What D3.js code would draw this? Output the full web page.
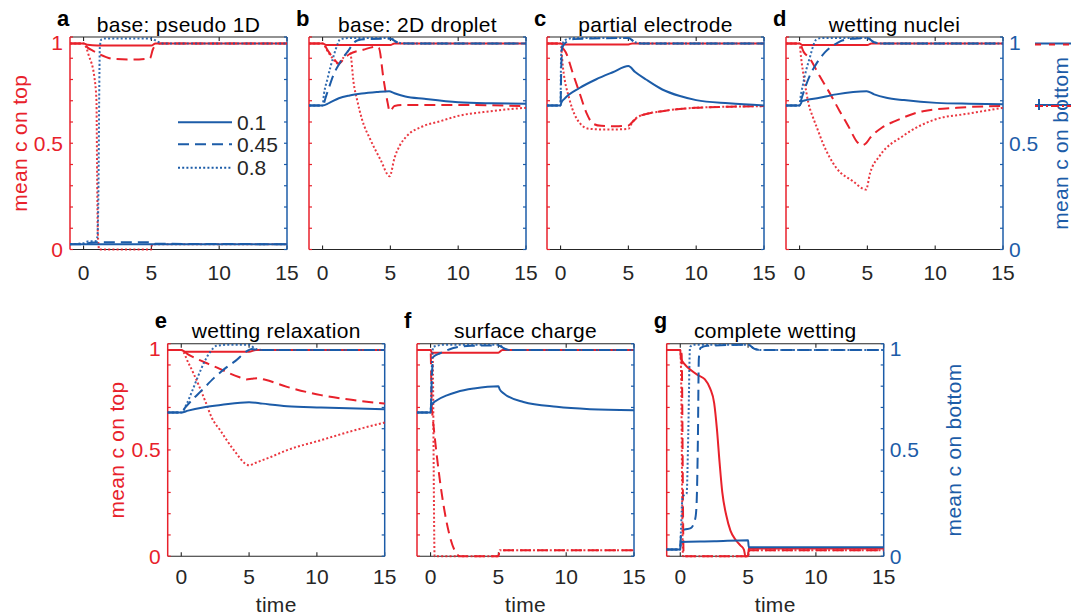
<!DOCTYPE html>
<html><head><meta charset="utf-8">
<script src="https://cdn.jsdelivr.net/npm/d3@7"></script>
<style>
body{margin:0;background:#fff;}
svg{display:block;}
text{font-family:"Liberation Sans",Arial,Helvetica,sans-serif;}
</style>
</head><body>
<svg id="chart" width="1071" height="616"></svg>
<script>
// ---------------- DATA ----------------
const panelIds = ["a","b","c","d","e","f","g"];
const panelTitles = ["base: pseudo 1D","base: 2D droplet","partial electrode","wetting nuclei",
                     "wetting relaxation","surface charge","complete wetting"];
const xTicks = [0,5,10,15];
const xTickLabels = ["0","5","10","15"];
const yMinorTicks = [0,0.1,0.2,0.3,0.4,0.5,0.6,0.7,0.8,0.9,1];
const yTickValues = [0,0.5,1];
const yTickLabels = ["0","0.5","1"];
const legendLabels = ["0.1","0.45","0.8"];
const timeDomain = [-1,15];
const valueDomain = [0,1];
const xAxisTitle = "time";
const leftAxisTitle = "mean c on top";
const rightAxisTitle = "mean c on bottom";

// panel a: base pseudo 1D  (top = red, bottom = blue; 0.1 solid, 0.45 dashed, 0.8 dotted)
const aTop01  = [[-1,0.97],[0,0.97],[0.3,0.963],[1,0.96],[5,0.96],[5.3,0.97],[15,0.97]];
const aTop045 = [[-1,0.97],[0,0.97],[0.3,0.95],[0.7,0.935],[1.2,0.918],[2.2,0.897],[3.5,0.894],[4.9,0.9],[5.1,0.94],[5.4,0.965],[5.7,0.97],[15,0.97]];
const aTop08  = [[-1,0.97],[0,0.97],[0.4,0.91],[0.8,0.81],[0.95,0.7],[1.0,0.35],[1.05,0.08],[1.15,0.0],[5,0.0],[5.05,0.025],[15,0.025]];
const aBot01  = [[-1,0.025],[15,0.025]];
const aBot045 = [[-1,0.025],[0,0.025],[0.5,0.032],[1,0.034],[4.8,0.034],[5.3,0.027],[15,0.025]];
const aBot08  = [[-1,0.025],[0,0.03],[0.3,0.038],[0.9,0.04],[1.02,0.06],[1.1,0.3],[1.15,0.7],[1.2,0.95],[1.3,0.988],[1.6,0.993],[5,0.993],[5.4,0.98],[5.8,0.97],[15,0.97]];

// panel b: base 2D droplet
const bTop01  = [[-1,0.97],[0,0.97],[0.3,0.962],[5,0.962],[5.3,0.97],[15,0.97]];
const bTop045 = [[-1,0.97],[0,0.97],[0.4,0.935],[0.8,0.9],[1.2,0.875],[1.6,0.9],[2,0.92],[3,0.94],[4,0.955],[4.15,0.95],[4.5,0.8],[4.8,0.69],[4.95,0.65],[5.3,0.675],[6,0.68],[10,0.68],[15,0.675]];
const bTop08  = [[-1,0.97],[0,0.97],[0.4,0.93],[0.8,0.895],[1.1,0.875],[1.5,0.9],[1.95,0.935],[2.05,0.925],[2.29,0.784],[2.54,0.706],[2.91,0.612],[3.52,0.518],[4.26,0.424],[4.95,0.345],[5.3,0.43],[5.7,0.49],[6.2,0.533],[7.4,0.58],[8.7,0.604],[9.9,0.627],[12.4,0.651],[15,0.667]];
const bBot01  = [[-1,0.678],[0,0.678],[0.5,0.69],[1.2,0.712],[2,0.725],[2.9,0.734],[4,0.741],[4.9,0.745],[5.3,0.735],[6.1,0.72],[7.5,0.709],[10,0.693],[12.5,0.688],[15,0.686]];
const bBot045 = [[-1,0.678],[0,0.678],[0.3,0.73],[0.86,0.83],[1.2,0.87],[1.6,0.91],[1.95,0.94],[2.3,0.973],[2.6,0.985],[3.2,0.99],[5,0.992],[5.5,0.975],[6,0.97],[15,0.97]];
const bBot08  = [[-1,0.678],[0,0.678],[0.1,0.73],[0.35,0.8],[0.6,0.863],[0.85,0.918],[1.1,0.965],[1.3,0.99],[2,0.995],[5,0.995],[5.5,0.975],[6,0.97],[15,0.97]];

// panel c: partial electrode
const cTop01  = [[-1,0.97],[0,0.97],[0.2,0.965],[5,0.965],[5.3,0.97],[15,0.97]];
const cTop045 = [[-1,0.97],[0,0.97],[0.1,0.955],[0.4,0.926],[0.9,0.83],[1.4,0.737],[1.9,0.644],[2.4,0.592],[3,0.582],[4,0.58],[5,0.583],[5.3,0.6],[5.8,0.627],[7.5,0.651],[10,0.667],[12.5,0.672],[15,0.675]];
const cTop08  = [[-1,0.97],[0,0.97],[0.17,0.86],[0.66,0.706],[1.4,0.596],[2.1,0.568],[3,0.565],[4,0.565],[5,0.568],[5.3,0.6],[5.8,0.627],[7.5,0.651],[10,0.667],[12.5,0.672],[15,0.675]];
const cBot01  = [[-1,0.678],[0,0.678],[0.05,0.69],[0.3,0.71],[1.4,0.76],[2.6,0.8],[3.85,0.834],[5,0.863],[5.5,0.835],[6.3,0.8],[7.5,0.753],[8.8,0.722],[10,0.703],[12.4,0.688],[15,0.678]];
const cBot045 = [[-1,0.678],[0,0.678],[0.05,0.85],[0.12,0.95],[0.4,0.975],[1,0.99],[5,0.995],[5.5,0.975],[6,0.97],[15,0.97]];
const cBot08  = [[-1,0.678],[0,0.678],[0.03,0.88],[0.08,0.95],[0.3,0.985],[1,0.995],[5,0.995],[5.5,0.975],[6,0.97],[15,0.97]];

// panel d: wetting nuclei
const dTop01  = [[-1,0.97],[0,0.97],[0.2,0.962],[5,0.962],[5.3,0.97],[15,0.97]];
const dTop045 = [[-1,0.97],[0,0.97],[0.3,0.93],[0.74,0.9],[1.48,0.816],[2.1,0.75],[2.96,0.651],[3.6,0.58],[4.3,0.502],[4.6,0.49],[4.9,0.5],[5.2,0.525],[6.06,0.573],[7.04,0.604],[9.1,0.651],[11.6,0.667],[15,0.676]];
const dTop08  = [[-1,0.97],[0,0.97],[0.1,0.91],[0.37,0.79],[0.65,0.69],[1,0.62],[1.3,0.57],[1.72,0.5],[2.7,0.385],[3.94,0.321],[4.9,0.282],[5.2,0.36],[5.9,0.44],[7.6,0.533],[8.8,0.58],[10,0.612],[12.5,0.64],[15,0.667]];
const dBot01  = [[-1,0.678],[0,0.678],[0.2,0.698],[1.48,0.714],[2.7,0.73],[4.95,0.745],[5.5,0.73],[6.4,0.714],[7.7,0.703],[10.1,0.69],[12.5,0.686],[15,0.684]];
const dBot045 = [[-1,0.678],[0,0.678],[0.1,0.7],[0.74,0.816],[1.2,0.87],[1.9,0.93],[2.6,0.965],[3.2,0.985],[4,0.992],[5,0.995],[5.5,0.975],[6,0.97],[15,0.97]];
const dBot08  = [[-1,0.678],[0,0.678],[0.05,0.706],[0.25,0.776],[0.5,0.847],[0.75,0.902],[1,0.957],[1.23,0.988],[1.6,0.995],[5,0.995],[5.5,0.975],[6,0.97],[15,0.97]];

// panel e: wetting relaxation
const eTop01  = [[-1,0.97],[0,0.97],[0.3,0.962],[5,0.962],[5.5,0.97],[15,0.97]];
const eTop045 = [[-1,0.97],[0,0.97],[0.5,0.95],[1.3,0.924],[2,0.905],[2.8,0.883],[3.5,0.862],[4.3,0.842],[4.8,0.832],[5.2,0.835],[5.6,0.838],[6.2,0.83],[7.8,0.797],[10.3,0.758],[12.8,0.734],[15,0.718]];
const eTop08  = [[-1,0.97],[0,0.97],[0.54,0.908],[1.28,0.806],[1.78,0.728],[2.27,0.649],[2.9,0.59],[3.88,0.499],[5,0.428],[5.5,0.44],[6.6,0.467],[7.8,0.499],[10.3,0.546],[12.8,0.593],[15,0.629]];
const eBot01  = [[-1,0.676],[0,0.676],[0.5,0.685],[1.6,0.7],[2.9,0.711],[5,0.725],[6,0.718],[7.8,0.706],[10.3,0.7],[15,0.692]];
const eBot045 = [[-1,0.676],[0,0.676],[0.3,0.7],[1.66,0.79],[2.4,0.838],[3.26,0.885],[4,0.919],[4.87,0.966],[5.2,0.975],[5.6,0.97],[15,0.97]];
const eBot08  = [[-1,0.676],[0,0.676],[0.42,0.72],[0.79,0.775],[1.28,0.853],[1.78,0.924],[2.15,0.963],[2.6,0.99],[3.5,0.995],[5,0.995],[5.5,0.975],[6,0.97],[15,0.97]];

// panel f: surface charge
const fTop01  = [[-1,0.97],[0,0.97],[0.1,0.958],[5,0.958],[5.3,0.97],[15,0.97]];
const fTop045 = [[-1,0.97],[0,0.97],[0.1,0.69],[2.19,0.0],[5,0.0],[5.1,0.028],[15,0.028]];
const fTop08  = [[-1,0.97],[0,0.97],[0.15,0.95],[0.3,0.0],[5,0.0],[5.1,0.028],[15,0.028]];
const fBot01  = [[-1,0.676],[0,0.676],[0.05,0.71],[0.47,0.734],[1.2,0.757],[1.94,0.773],[3.2,0.789],[5,0.8],[5.1,0.785],[5.4,0.766],[6.85,0.726],[9.3,0.703],[11.75,0.692],[15,0.687]];
const fBot045 = [[-1,0.676],[0,0.676],[0.1,0.85],[0.2,0.938],[0.7,0.955],[1.2,0.969],[2,0.985],[3,0.99],[5,0.992],[5.5,0.975],[6,0.97],[15,0.97]];
const fBot08  = [[-1,0.676],[0,0.676],[0.1,0.9],[0.2,0.985],[1,0.995],[5,0.995],[5.5,0.975],[6,0.97],[15,0.97]];

// panel g: complete wetting
const gTop01  = [[-1,0.97],[0,0.97],[0.05,0.93],[0.3,0.905],[0.8,0.875],[1.3,0.852],[1.8,0.833],[2.2,0.79],[2.5,0.72],[2.7,0.6],[2.9,0.44],[3.1,0.3],[3.4,0.19],[3.7,0.12],[4.1,0.075],[4.45,0.05],[4.7,0.03],[4.8,0.0],[5,0.0],[5.05,0.036],[15,0.036]];
const gTop045 = [[-1,0.97],[0,0.97],[0.1,0.95],[0.25,0.0],[5,0.0],[5.1,0.028],[15,0.028]];
const gTop08  = [[-1,0.97],[0,0.97],[0.05,0.9],[0.2,0.0],[5,0.0],[5.1,0.028],[15,0.028]];
const gBot01  = [[-1,0.031],[0,0.031],[0.02,0.067],[2.5,0.07],[5,0.075],[5.05,0.042],[15,0.042]];
const gBot045 = [[-1,0.031],[0,0.031],[0.05,0.1],[0.3,0.125],[0.77,0.132],[1.1,0.175],[1.2,0.24],[1.3,0.55],[1.37,0.93],[1.5,0.98],[2,0.99],[5,0.995],[5.5,0.975],[6,0.97],[15,0.97]];
const gBot08  = [[-1,0.031],[0,0.031],[0.05,0.12],[0.17,0.28],[0.47,0.295],[0.59,0.577],[0.72,0.985],[1,0.995],[5,0.995],[5.5,0.975],[6,0.97],[15,0.97]];

// stray line stubs visible to the right of panel d
const dStubValues = [0.97, 0.68];

const topSeries = {a:[aTop01,aTop045,aTop08], b:[bTop01,bTop045,bTop08], c:[cTop01,cTop045,cTop08],
  d:[dTop01,dTop045,dTop08], e:[eTop01,eTop045,eTop08], f:[fTop01,fTop045,fTop08], g:[gTop01,gTop045,gTop08]};
const botSeries = {a:[aBot01,aBot045,aBot08], b:[bBot01,bBot045,bBot08], c:[cBot01,cBot045,cBot08],
  d:[dBot01,dBot045,dBot08], e:[eBot01,eBot045,eBot08], f:[fBot01,fBot045,fBot08], g:[gBot01,gBot045,gBot08]};

// ---------------- LAYOUT / STYLE ----------------
const RED = "#e8212b", BLUE = "#1c5ca8", AX = "#262626";
const W = 217, H = 212.5;
const layout = {
  a:{left:70,   top:37,  row:0, leftLab:true},
  b:{left:309,  top:37,  row:0},
  c:{left:547,  top:37,  row:0},
  d:{left:786,  top:37,  row:0, rightLab:true, rLabOff:65},
  e:{left:167.7,top:343.7,row:1, leftLab:true},
  f:{left:417,  top:343.7,row:1},
  g:{left:666.7,top:343.7,row:1, rightLab:true, rLabOff:77}
};
const dashes = [null, "11,6", "2,2.2"];
const FS = 21;
const LS = 0.3;

const svg = d3.select("#chart");

panelIds.forEach((id, pi) => {
  const L = layout[id];
  const x = d3.scaleLinear().domain(timeDomain).range([L.left, L.left + W]);
  const y = d3.scaleLinear().domain(valueDomain).range([L.top + H, L.top]);
  const g = svg.append("g").attr("class", "panel-" + id);
  const R = L.left + W, B = L.top + H;

  // box top & bottom (black)
  g.append("line").attr("x1", L.left).attr("x2", R).attr("y1", L.top).attr("y2", L.top)
    .attr("stroke", AX).attr("stroke-width", 1.1);
  g.append("line").attr("x1", L.left).attr("x2", R).attr("y1", B).attr("y2", B)
    .attr("stroke", AX).attr("stroke-width", 1.1);
  xTicks.forEach(t => {
    g.append("line").attr("x1", x(t)).attr("x2", x(t)).attr("y1", B).attr("y2", B - 4)
      .attr("stroke", AX).attr("stroke-width", 1.1);
    g.append("line").attr("x1", x(t)).attr("x2", x(t)).attr("y1", L.top).attr("y2", L.top + 4)
      .attr("stroke", AX).attr("stroke-width", 1.1);
  });
  xTicks.forEach((t, i) => {
    g.append("text").attr("x", x(t)).attr("y", B + (L.row === 0 ? 30 : 27.5))
      .attr("text-anchor", "middle").attr("font-size", FS).attr("fill", AX).text(xTickLabels[i]);
  });
  if (L.row === 1) {
    g.append("text").attr("x", L.left + W / 2).attr("y", 611.5).attr("text-anchor", "middle")
      .attr("font-size", FS).attr("letter-spacing", LS).attr("fill", AX).text(xAxisTitle);
  }

  // left (red) and right (blue) axes
  g.append("line").attr("x1", L.left).attr("x2", L.left).attr("y1", L.top).attr("y2", B)
    .attr("stroke", RED).attr("stroke-width", 1.5);
  g.append("line").attr("x1", R).attr("x2", R).attr("y1", L.top).attr("y2", B)
    .attr("stroke", BLUE).attr("stroke-width", 1.5);
  yMinorTicks.forEach(v => {
    g.append("line").attr("x1", L.left).attr("x2", L.left + 3).attr("y1", y(v)).attr("y2", y(v))
      .attr("stroke", RED).attr("stroke-width", 1.2);
    g.append("line").attr("x1", R).attr("x2", R - 3).attr("y1", y(v)).attr("y2", y(v))
      .attr("stroke", BLUE).attr("stroke-width", 1.2);
  });
  if (L.leftLab) {
    yTickValues.forEach((v, i) => {
      g.append("text").attr("x", L.left - 7).attr("y", y(v) + 7.5 + (v === 1 ? 5 : 0))
        .attr("text-anchor", "end").attr("font-size", FS).attr("fill", RED).text(yTickLabels[i]);
    });
    g.append("text").attr("transform", `translate(${L.left - 43.5},${L.top + H / 2}) rotate(-90)`)
      .attr("text-anchor", "middle").attr("font-size", FS).attr("letter-spacing", LS)
      .attr("fill", RED).text(leftAxisTitle);
  }
  if (L.rightLab) {
    yTickValues.forEach((v, i) => {
      g.append("text").attr("x", R + 6).attr("y", y(v) + 7.5 + (v === 1 ? 5 : 0))
        .attr("text-anchor", "start").attr("font-size", FS).attr("fill", BLUE).text(yTickLabels[i]);
    });
    g.append("text").attr("transform", `translate(${R + L.rLabOff},${L.top + H / 2}) rotate(-90)`)
      .attr("text-anchor", "middle").attr("font-size", FS).attr("letter-spacing", LS)
      .attr("fill", BLUE).text(rightAxisTitle);
  }

  // title and panel letter
  g.append("text").attr("x", L.left + W / 2).attr("y", L.top - 5.5).attr("text-anchor", "middle")
    .attr("font-size", FS).attr("letter-spacing", LS).attr("fill", "#000").text(panelTitles[pi]);
  g.append("text").attr("x", L.left - 13).attr("y", L.row === 0 ? L.top - 11 : L.top - 16)
    .attr("font-size", 22).attr("font-weight", "bold").attr("fill", "#000").text(id);

  // data
  const line = d3.line().x(d => x(d[0])).y(d => y(d[1])).curve(d3.curveMonotoneX);
  const drawSet = (arr, color) => arr.forEach((s, k) => {
    g.append("path").attr("d", line(s)).attr("fill", "none").attr("stroke", color)
      .attr("stroke-width", 2).attr("stroke-dasharray", dashes[k])
      .attr("stroke-opacity", k === 2 ? 0.9 : 1);
  });
  drawSet(topSeries[id], RED);
  drawSet(botSeries[id], BLUE);

  // legend in panel a
  if (id === "a") {
    const ly = [122.3, 144.3, 167.7];
    legendLabels.forEach((lab, k) => {
      g.append("line").attr("x1", 178).attr("x2", 232).attr("y1", ly[k]).attr("y2", ly[k])
        .attr("stroke", BLUE).attr("stroke-width", 2).attr("stroke-dasharray", dashes[k]);
      g.append("text").attr("x", 237).attr("y", ly[k] + 7.5).attr("font-size", FS)
        .attr("fill", AX).text(lab);
    });
  }

  // stray stubs at right of panel d
  if (id === "d") {
    dStubValues.forEach((v, k) => {
      g.append("line").attr("x1", 1035).attr("x2", 1071).attr("y1", y(v)).attr("y2", y(v))
        .attr("stroke", BLUE).attr("stroke-width", 2);
      g.append("line").attr("x1", 1035).attr("x2", 1071).attr("y1", y(v) + 1).attr("y2", y(v) + 1)
        .attr("stroke", RED).attr("stroke-width", 2).attr("stroke-dasharray", k === 0 ? "6,8" : "8,3,2,3");
    });
    g.append("line").attr("x1", 1039).attr("x2", 1039).attr("y1", y(dStubValues[1]) - 6).attr("y2", y(dStubValues[1]) + 5)
      .attr("stroke", BLUE).attr("stroke-width", 2);
  }
});
</script>
</body></html>
